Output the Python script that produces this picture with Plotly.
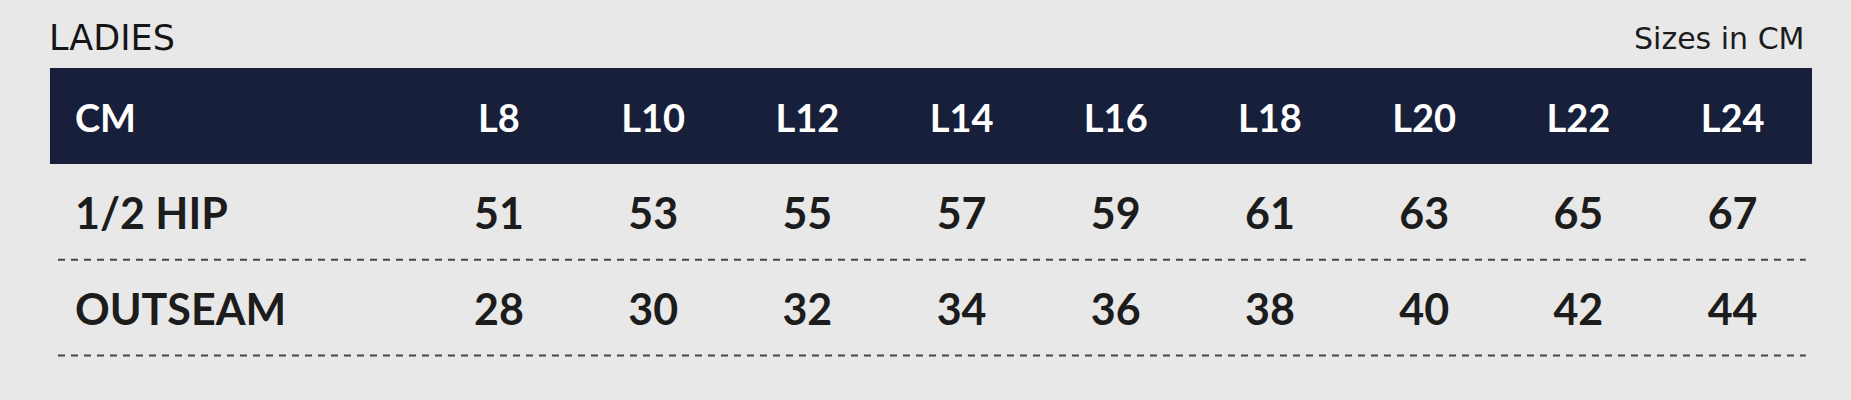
import plotly.graph_objects as go

title_left = "LADIES"
title_right = "Sizes in CM"
corner_label = "CM"
sizes = ["L8", "L10", "L12", "L14", "L16", "L18", "L20", "L22", "L24"]
row_labels = ["1/2 HIP", "OUTSEAM"]
hip = [51, 53, 55, 57, 59, 61, 63, 65, 67]
outseam = [28, 30, 32, 34, 36, 38, 40, 42, 44]
rows = [hip, outseam]

W, H = 1851, 400
NAVY = "#181f3a"
BG = "#e8e8e8"
INK = "#1c1c1c"
FONT = "Lato"
TITLE_FONT = "DejaVu Sans"

# axis mapping: size column k centred at x=k, row r centred at y=r (reversed)
x_range = [-3.236, 8.768]
y_range = [2.898, -1.279]
label_x = -2.75

fig = go.Figure()

# header bar
fig.add_shape(type="rect", xref="x", yref="y", x0=-2.912, x1=8.515, y0=-0.569, y1=0.433,
              fillcolor=NAVY, line=dict(width=0), layer="below")

# dashed separators
for r in range(len(rows)):
    fig.add_shape(type="line", xref="x", yref="y", x0=-2.86, x1=8.475, y0=r + 1.434, y1=r + 1.434,
                  line=dict(color="#454545", width=2, dash="7px,6px"))

# header texts
fig.add_trace(go.Scatter(x=list(range(len(sizes))), y=[0] * len(sizes), mode="text", text=sizes,
                         textposition="middle center",
                         textfont=dict(family=FONT, size=38, color="white", weight="bold"),
                         hoverinfo="skip", showlegend=False))
fig.add_trace(go.Scatter(x=[label_x], y=[0], mode="text", text=[corner_label],
                         textposition="middle right",
                         textfont=dict(family=FONT, size=38, color="white", weight="bold"),
                         hoverinfo="skip", showlegend=False))

# body rows
for r, (lab, vals) in enumerate(zip(row_labels, rows)):
    fig.add_trace(go.Scatter(x=list(range(len(vals))), y=[r + 1] * len(vals), mode="text",
                             text=[str(v) for v in vals], textposition="middle center",
                             textfont=dict(family=FONT, size=43, color=INK, weight="bold"),
                             hoverinfo="skip", showlegend=False))
    fig.add_trace(go.Scatter(x=[label_x], y=[r + 1], mode="text", text=[lab],
                             textposition="middle right",
                             textfont=dict(family=FONT, size=43, color=INK, weight="bold"),
                             hoverinfo="skip", showlegend=False))

fig.add_annotation(x=-2.922, y=-0.88, xref="x", yref="y", text=title_left, showarrow=False,
                   xanchor="left", yanchor="middle", borderpad=0,
                   font=dict(family=TITLE_FONT, size=35, color="#151515"))
fig.add_annotation(x=8.47, y=-0.875, xref="x", yref="y", text=title_right, showarrow=False,
                   xanchor="right", yanchor="middle", borderpad=0,
                   font=dict(family=TITLE_FONT, size=30, color=INK))

fig.update_layout(width=W, height=H, margin=dict(l=0, r=0, t=0, b=0),
                  paper_bgcolor=BG, plot_bgcolor=BG,
                  xaxis=dict(range=x_range, visible=False, fixedrange=True),
                  yaxis=dict(range=y_range, visible=False, fixedrange=True))

fig.write_html("out.html", config={"displayModeBar": False},
               post_script="document.body.style.margin='0';document.body.style.background='#e8e8e8';document.body.style.overflow='hidden';")
